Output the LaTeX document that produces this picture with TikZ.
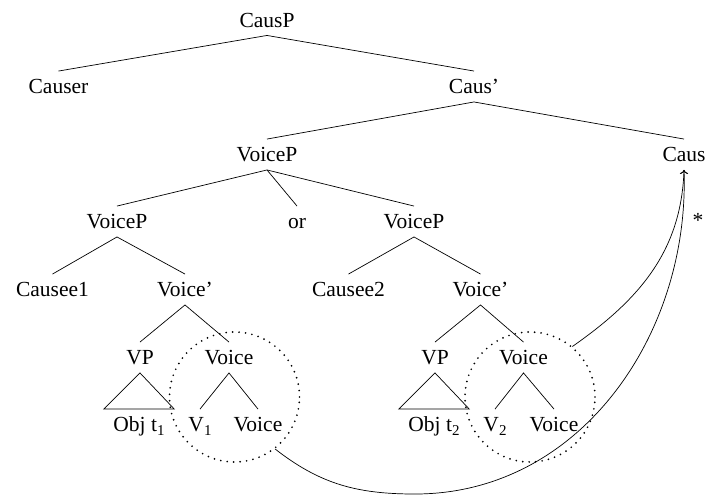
\documentclass[tikz,border=0pt]{standalone}
\usepackage{fontspec}
\setmainfont{Liberation Serif}
\usetikzlibrary{arrows.meta}
\newcommand{\sbs}[1]{\raisebox{-0.35ex}{\fontsize{15}{15}\selectfont #1}}
\begin{document}
\begin{tikzpicture}[x=1pt,y=-1pt,
  lbl/.style={inner xsep=1pt,inner ysep=8pt,text height=14.5pt,text depth=0pt,font=\fontsize{21.5}{25}\selectfont},
  leaf/.style={lbl},
  tri/.style={leaf,inner xsep=9.5pt},
  ring/.style={draw,circle,minimum size=130pt,inner sep=0pt,line width=1.9pt,dash pattern=on 0pt off 6.5pt,line cap=round},
  br/.style={line width=0.7pt},
  mv/.style={line width=0.7pt,-{To[length=4pt,width=8pt]}}]
\useasboundingbox (0,0) rectangle (708,499);
\node[lbl] (causp) at (267,20) {CausP};
\node[lbl] (causer) at (58.5,86.5) {Causer};
\node[lbl] (causbar) at (474,86.5) {Caus'};
\node[lbl] (voicep) at (267,154.5) {VoiceP};
\node[lbl] (caus) at (684,154.5) {Caus};
\node[lbl] (vpl) at (117,221.5) {VoiceP};
\node[lbl] (or) at (297,221.5) {or};
\node[lbl] (vpr) at (414,221.5) {VoiceP};
\node[lbl] (causee1) at (52.5,289.5) {Causee1};
\node[lbl] (vbarl) at (185,289.5) {Voice'};
\node[lbl] (causee2) at (348.5,289.5) {Causee2};
\node[lbl] (vbarr) at (480.5,289.5) {Voice'};
\node[lbl] (vpL) at (140,357.5) {VP};
\node[lbl] (voiceL) at (229,357.5) {Voice};
\node[lbl] (vpR) at (435,357.5) {VP};
\node[lbl] (voiceR) at (523.5,357.5) {Voice};
\node[tri] (obj1) at (139,424.5) {Obj t\sbs{1}};
\node[leaf] (v1) at (200,424.5) {V\sbs{1}};
\node[leaf] (vl1) at (258,424.5) {Voice};
\node[tri] (obj2) at (434,424.5) {Obj t\sbs{2}};
\node[leaf] (v2) at (495,424.5) {V\sbs{2}};
\node[leaf] (vl2) at (554,424.5) {Voice};
\node[inner sep=0pt,anchor=base,font=\fontsize{21.5}{25}\selectfont] (star) at (698,227.5) {*};
\node[ring] (c1) at (234.5,397) {};
\node[ring] (c2) at (530,397) {};
\coordinate (bot) at (415,494);
\draw[br] (causer.north) -- (causp.south) -- (causbar.north);
\draw[br] (voicep.north) -- (causbar.south) -- (caus.north);
\draw[br] (vpl.north) -- (voicep.south) -- (vpr.north);
\draw[br] (voicep.south) -- (or.north);
\draw[br] (causee1.north) -- (vpl.south) -- (vbarl.north);
\draw[br] (causee2.north) -- (vpr.south) -- (vbarr.north);
\draw[br] (vpL.north) -- (vbarl.south) -- (voiceL.north);
\draw[br] (vpR.north) -- (vbarr.south) -- (voiceR.north);
\draw[br] (v1.north) -- (voiceL.south) -- (vl1.north);
\draw[br] (v2.north) -- (voiceR.south) -- (vl2.north);
\draw[br] (vpL.south) -- (obj1.north west) -- (obj1.north east) -- cycle;
\draw[br] (vpR.south) -- (obj2.north west) -- (obj2.north east) -- cycle;
\draw[mv] (c2.50) to[out=35,in=-92] (caus.south);
\draw[mv] (c1.-52) to[out=-38,in=180] (bot) to[out=0,in=-88] (caus.south);
\end{tikzpicture}
\end{document}
